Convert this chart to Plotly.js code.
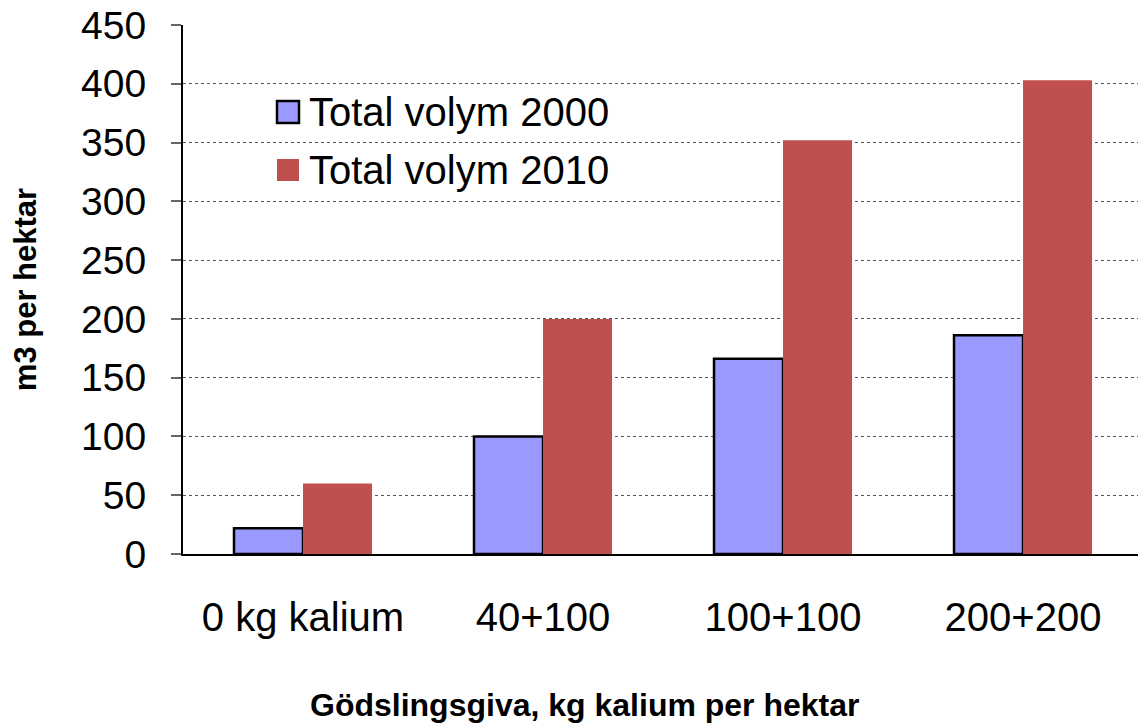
<!DOCTYPE html>
<html>
<head>
<meta charset="utf-8">
<script src="https://cdn.plot.ly/plotly-3.0.1.min.js"></script>
<style>html,body{margin:0;padding:0;background:#fff;}#chart{width:1138px;height:724px;}</style>
</head>
<body>
<div id="chart"></div>
<script>
const categories = ["0 kg kalium", "40+100", "100+100", "200+200"];
const seriesNames = ["Total volym 2000", "Total volym 2010"];
const volym2000 = [22, 100, 166, 186];
const volym2010 = [60, 200, 352, 403];
const yTicks = [0, 50, 100, 150, 200, 250, 300, 350, 400, 450];
const seriesColors = ["#9999FF", "#C0504D"];
const xTitle = "Gödslingsgiva, kg kalium per hektar";
const yTitle = "m3 per hektar";

const font = "Liberation Sans, Arial, sans-serif";
const W = 1138, H = 724;
const M = {l: 183, r: 0, t: 25, b: 170};
const pw = W - M.l - M.r, ph = H - M.t - M.b;
const px2x = px => (px - M.l) / pw;
const py2y = py => (H - M.b - py) / ph;

const data = [
  {type: "bar", name: seriesNames[0], x: categories, y: volym2000, showlegend: false,
   marker: {color: seriesColors[0], line: {color: "#000000", width: 2.5}}},
  {type: "bar", name: seriesNames[1], x: categories, y: volym2010, showlegend: false,
   marker: {color: seriesColors[1], line: {width: 0}}}
];

// custom legend (large symbols as in the reference)
const legendRows = [112, 170];
const shapes = seriesNames.map((n, i) => ({
  type: "rect", xref: "paper", yref: "paper",
  x0: px2x(277), x1: px2x(299),
  y0: py2y(legendRows[i] + 11), y1: py2y(legendRows[i] - 11),
  fillcolor: seriesColors[i],
  line: i === 0 ? {color: "#000", width: 2.5} : {width: 0}
}));
const annotations = seriesNames.map((n, i) => ({
  text: n, xref: "paper", yref: "paper", x: px2x(307), y: py2y(legendRows[i]),
  xanchor: "left", yanchor: "middle", showarrow: false,
  font: {size: 40, family: font, color: "#000"}
}));
annotations.push({
  text: "<b>" + xTitle + "</b>", xref: "paper", yref: "paper",
  x: px2x(585), y: py2y(705), xanchor: "center", yanchor: "middle", showarrow: false,
  font: {size: 32, family: font, color: "#000"}
});

const layout = {
  width: W, height: H,
  margin: M,
  paper_bgcolor: "#fff", plot_bgcolor: "#fff",
  barmode: "group", bargap: 0.425, bargroupgap: 0,
  font: {family: font, color: "#000"},
  showlegend: false,
  shapes: shapes,
  annotations: annotations,
  xaxis: {range: [-0.5, 3.479], showline: true, linecolor: "#000", linewidth: 2,
          ticks: "", tickfont: {size: 40}, showgrid: false, ticklabelstandoff: 27},
  yaxis: {range: [0, 450], tickvals: yTicks, showline: true, linecolor: "#000", linewidth: 2,
          ticks: "outside", ticklen: 10, tickcolor: "#666", tickwidth: 2, ticklabelstandoff: 17,
          tickfont: {size: 39}, showgrid: true, gridcolor: "#555", griddash: "dot", gridwidth: 1,
          zeroline: false,
          title: {text: "<b>" + yTitle + "</b>", font: {size: 31}, standoff: 35}}
};
Plotly.newPlot("chart", data, layout, {displayModeBar: false, staticPlot: true});
</script>
</body>
</html>
